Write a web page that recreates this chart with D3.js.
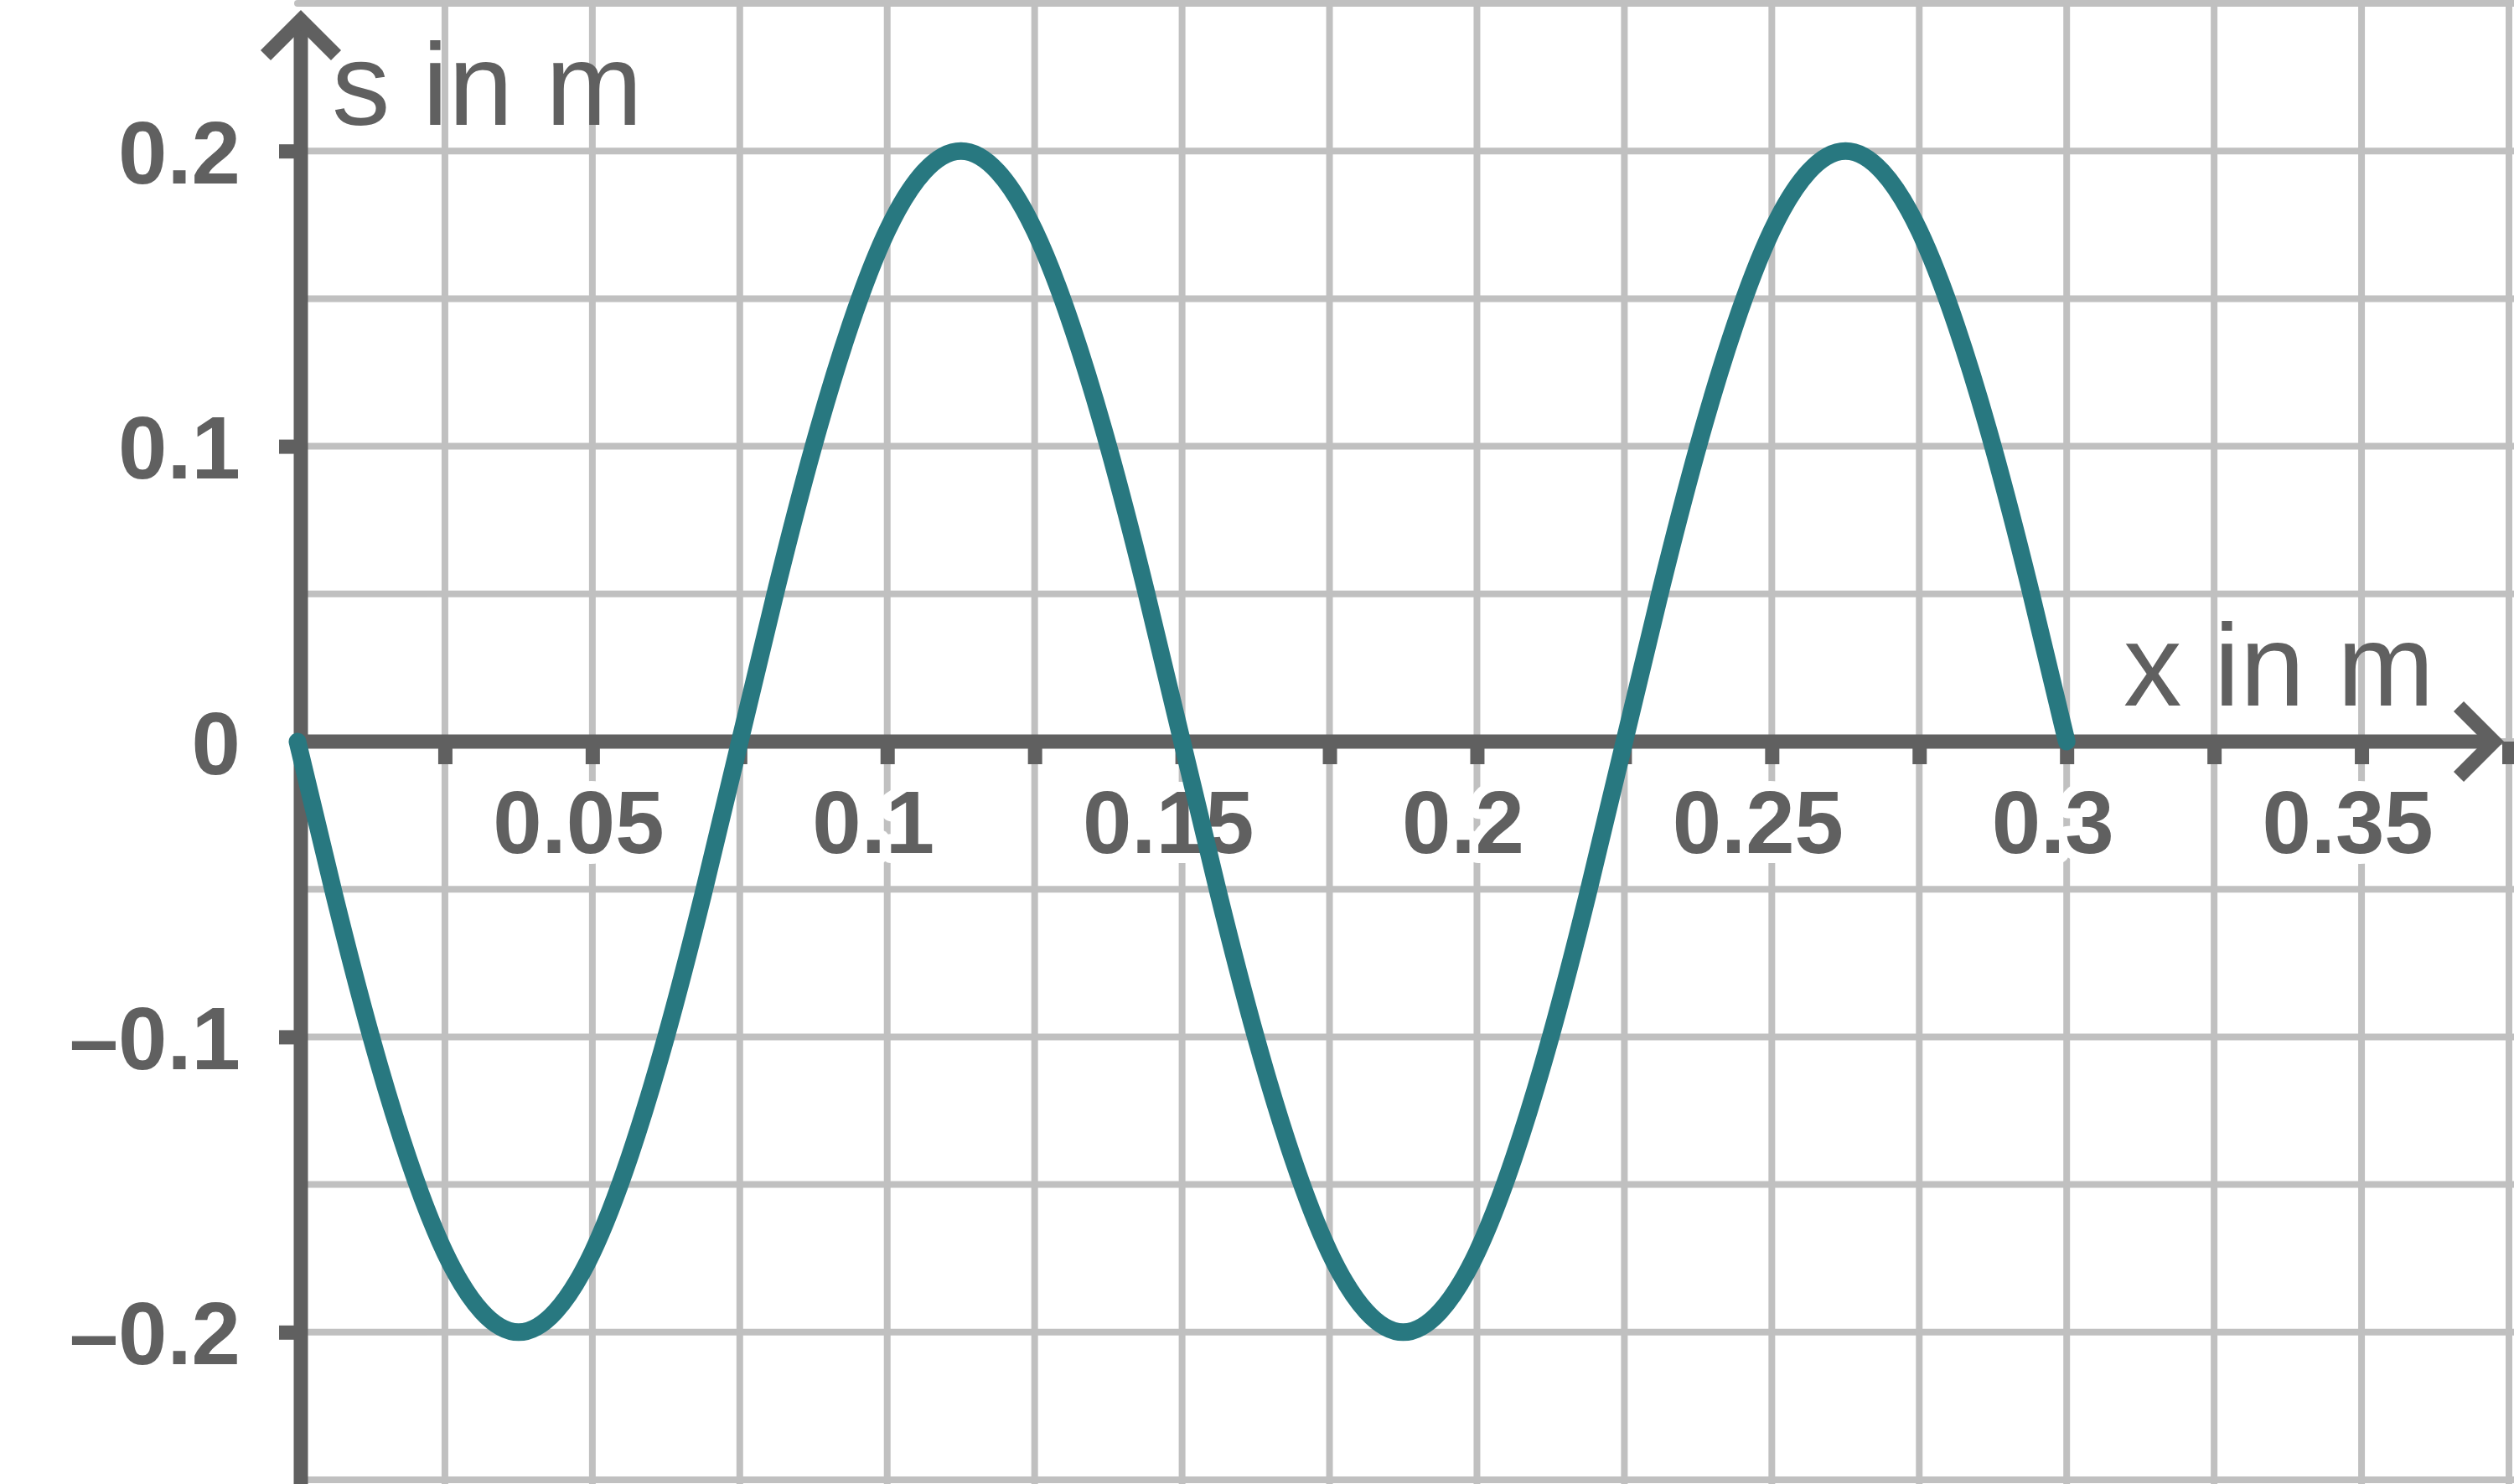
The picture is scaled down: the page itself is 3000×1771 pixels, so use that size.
<!DOCTYPE html>
<html>
<head>
<meta charset="utf-8">
<script src="https://cdn.jsdelivr.net/npm/d3@7"></script>
<style>
  html, body { margin: 0; padding: 0; background: #fff; }
  svg { display: block; }
</style>
</head>
<body>
<svg id="chart" width="3000" height="1771"></svg>
<script>
// wave: x in m, s in m
const xValues = [0, 0.00625, 0.0125, 0.01875, 0.025, 0.03125, 0.0375, 0.04375, 0.05, 0.05625, 0.0625, 0.06875,
    0.075, 0.08125, 0.0875, 0.09375, 0.1, 0.10625, 0.1125, 0.11875, 0.125, 0.13125, 0.1375, 0.14375,
    0.15, 0.15625, 0.1625, 0.16875, 0.175, 0.18125, 0.1875, 0.19375, 0.2, 0.20625, 0.2125, 0.21875,
    0.225, 0.23125, 0.2375, 0.24375, 0.25, 0.25625, 0.2625, 0.26875, 0.275, 0.28125, 0.2875, 0.29375, 0.3];
const sValues = [0, -0.052, -0.1, -0.141, -0.173, -0.193, -0.2, -0.193, -0.173, -0.141, -0.1, -0.052,
    0, 0.052, 0.1, 0.141, 0.173, 0.193, 0.2, 0.193, 0.173, 0.141, 0.1, 0.052,
    0, -0.052, -0.1, -0.141, -0.173, -0.193, -0.2, -0.193, -0.173, -0.141, -0.1, -0.052,
    0, 0.052, 0.1, 0.141, 0.173, 0.193, 0.2, 0.193, 0.173, 0.141, 0.1, 0.052, 0];

const xGrid = [0.025, 0.05, 0.075, 0.1, 0.125, 0.15, 0.175, 0.2, 0.225, 0.25, 0.275, 0.3, 0.325, 0.35, 0.375];
const yGrid = [0.25, 0.2, 0.15, 0.1, 0.05, 0, -0.05, -0.1, -0.15, -0.2, -0.25];
const xLabels = [0.05, 0.1, 0.15, 0.2, 0.25, 0.3, 0.35];
const yLabels = [0.2, 0.1, 0, -0.1, -0.2];
const yTicks = [0.2, 0.1, -0.1, -0.2];
const xTitle = "x in m";
const yTitle = "s in m";

const svg = d3.select("#chart");
const width = +svg.attr("width");
const height = +svg.attr("height");

const axisColor = "#606060";
const gridColor = "#c0c0c0";
const curveColor = "#287880";

const x = d3.scaleLinear().domain([0, 0.375]).range([355, 2994]);
const y = d3.scaleLinear().domain([-0.25, 0.25]).range([1766, 4]);

const x0 = x(0) + 4;   // y axis line
const y0 = y(0);       // x axis line

const fmt = d => d === 0 ? "0" : (d < 0 ? "\u2013" : "") + Math.abs(d);

// grid
const grid = svg.append("g").attr("stroke", gridColor).attr("stroke-width", 8);
grid.selectAll(".vgrid")
    .data(xGrid)
    .enter()
    .append("line")
    .attr("x1", d => x(d)).attr("x2", d => x(d))
    .attr("y1", 0).attr("y2", height);
grid.selectAll(".hgrid")
    .data(yGrid)
    .enter()
    .append("line")
    .attr("stroke-linecap", "round")
    .attr("x1", x0 - 4).attr("x2", width)
    .attr("y1", d => y(d)).attr("y2", d => y(d));

// tick labels with white halo
const xLab = svg.append("g")
    .attr("transform", `translate(0,${y0})`)
    .call(d3.axisBottom(x).tickValues(xLabels).tickSize(0).tickFormat(fmt));
xLab.select(".domain").remove();
xLab.selectAll("text")
    .attr("x", -17)
    .attr("y", 133)
    .attr("dy", null);

const yLab = svg.append("g")
    .attr("transform", `translate(287,0)`)
    .call(d3.axisLeft(y).tickValues(yLabels).tickSize(0).tickPadding(0).tickFormat(fmt));
yLab.select(".domain").remove();
yLab.selectAll("text")
    .attr("x", 0)
    .attr("dy", 38);

svg.selectAll(".tick text")
    .attr("fill", axisColor)
    .attr("stroke", "#fff")
    .attr("stroke-width", 24)
    .attr("stroke-linejoin", "round")
    .attr("paint-order", "stroke")
    .style("font-family", "'Liberation Sans', Arial, sans-serif")
    .style("font-weight", "bold")
    .style("font-size", "105px");

// axes
const axes = svg.append("g").attr("stroke", axisColor).attr("fill", "none");

const xTickAxis = axes.append("g")
    .attr("transform", `translate(0,${y0})`)
    .call(d3.axisBottom(x).tickValues(xGrid).tickSize(27).tickFormat(""));
xTickAxis.select(".domain").remove();
xTickAxis.selectAll(".tick line").attr("stroke", axisColor).attr("stroke-width", 17);

const yTickAxis = axes.append("g")
    .attr("transform", `translate(${x0},0)`)
    .call(d3.axisLeft(y).tickValues(yTicks).tickSize(26).tickFormat(""));
yTickAxis.select(".domain").remove();
yTickAxis.selectAll(".tick line").attr("stroke", axisColor).attr("stroke-width", 17);

axes.append("line")
    .attr("x1", x0 - 8).attr("x2", 2976)
    .attr("y1", y0).attr("y2", y0)
    .attr("stroke-width", 17);
axes.append("line")
    .attr("x1", x0).attr("x2", x0)
    .attr("y1", height).attr("y2", 24)
    .attr("stroke-width", 17);

// arrow heads
axes.append("path")
    .attr("d", `M${2976 - 42},${y0 - 42}L2976,${y0}L${2976 - 42},${y0 + 42}`)
    .attr("stroke-width", 17);
axes.append("path")
    .attr("d", `M${x0 - 42},66L${x0},24L${x0 + 42},66`)
    .attr("stroke-width", 17);

// axis titles
svg.append("text")
    .attr("x", 396)
    .attr("y", 149)
    .attr("fill", axisColor)
    .style("font-family", "'Liberation Sans', Arial, sans-serif")
    .style("font-size", "139px")
    .text(yTitle);
svg.append("text")
    .attr("x", 2534)
    .attr("y", 842)
    .attr("fill", axisColor)
    .style("font-family", "'Liberation Sans', Arial, sans-serif")
    .style("font-size", "139px")
    .text(xTitle);

// wave
const points = xValues.map((v, i) => ({ x: v, s: sValues[i] }));
const line = d3.line()
    .x(d => x(d.x))
    .y(d => y(d.s))
    .curve(d3.curveNatural);

svg.append("path")
    .datum(points)
    .attr("fill", "none")
    .attr("stroke", curveColor)
    .attr("stroke-width", 21)
    .attr("stroke-linecap", "round")
    .attr("stroke-linejoin", "round")
    .attr("d", line);
</script>
</body>
</html>
